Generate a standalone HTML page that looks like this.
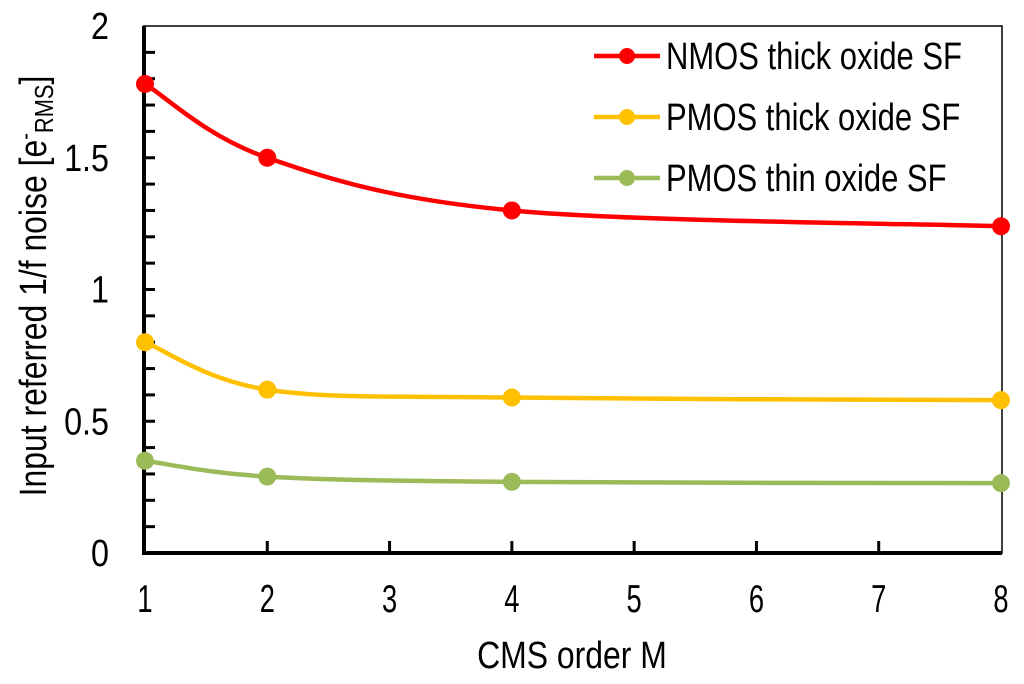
<!DOCTYPE html>
<html><head><meta charset="utf-8"><style>
body{margin:0;background:#fff}
svg text{font-family:"Liberation Sans",sans-serif;fill:#000}
</style></head><body>
<svg id="chart" width="1024" height="679" xmlns="http://www.w3.org/2000/svg">
<g id="grid"></g>
<g id="series"></g>
<g id="legend"></g>
</svg>
<script>
const xTicks=[1,2,3,4,5,6,7,8];
const yTicks=[0,0.5,1,1.5,2];
const yTickLabels=["0","0.5","1","1.5","2"];
const xValues=[1,2,4,8];
const nmosThick=[1.78,1.50,1.30,1.24];
const pmosThick=[0.80,0.62,0.59,0.58];
const pmosThin=[0.35,0.29,0.27,0.265];
const seriesNames=["NMOS thick oxide SF","PMOS thick oxide SF","PMOS thin oxide SF"];
const seriesColors=["#ff0000","#ffc000","#9bbb59"];

const L=145,R=1001,T=26,B=553;
const sx=v=>L+(v-1)*(R-L)/7;
const sy=v=>B-v*(B-T)/2;
const NS="http://www.w3.org/2000/svg";
function mk(tag,attrs,parent,txt){const e=document.createElementNS(NS,tag);for(const k in attrs)e.setAttribute(k,attrs[k]);if(txt!=null)e.textContent=txt;parent.appendChild(e);return e;}
function ntext(parent,x,y,size,anchor,str,sc){
  const g=mk('g',{transform:`translate(${x},${y}) scale(${sc},1)`},parent);
  return mk('text',{x:0,y:0,'font-size':size,'text-anchor':anchor},g,str);
}
const grid=document.getElementById('grid');
let f=mk('rect',{x:L-1,y:T,width:R-L+2,height:B-T,fill:'none',stroke:'#000','stroke-width':1.5},grid);


let ya=mk('line',{x1:L-1,y1:T,x2:L-1,y2:B+2,stroke:'#000','stroke-width':4},grid);


let xa=mk('line',{x1:L-3,y1:B,x2:R+1,y2:B,stroke:'#000','stroke-width':4},grid);


for(let i=1;i<20;i++){
  let t=mk('line',{x1:L,y1:sy(i/10),x2:L+10,y2:sy(i/10),stroke:'#000','stroke-width':3},grid);
  
  
}
yTicks.forEach((v,i)=>{
  let t=ntext(grid,109,sy(v)+13,38,'end',yTickLabels[i],0.85);
  
  
});
xTicks.forEach(v=>{
  if(v>1&&v<8){let t=mk('line',{x1:sx(v),y1:B,x2:sx(v),y2:B-12,stroke:'#000','stroke-width':3},grid);
  
  }
  let l=ntext(grid,sx(v),612,39,'middle',String(v),0.7);
  
  
});
let xt=ntext(grid,572,668,38,'middle','CMS order M',0.84);


const yg=mk('g',{transform:'translate(46,286) rotate(-90) scale(0.84,1)'},grid);
let yt=mk('text',{x:0,y:0,'text-anchor':'middle','font-size':38},yg);


yt.innerHTML='Input referred 1/f noise [e<tspan dy="-13" font-size="24">-</tspan><tspan dy="20" font-size="26">RMS</tspan><tspan dy="-7">]</tspan>';

function smooth(pts){
  let d=`M${pts[0][0]},${pts[0][1]}`;
  for(let i=0;i<pts.length-1;i++){
    const p0=pts[i-1]||pts[i],p1=pts[i],p2=pts[i+1],p3=pts[i+2]||p2;
    const c1=[p1[0]+(p2[0]-p0[0])/6,p1[1]+(p2[1]-p0[1])/6];
    const c2=[p2[0]-(p3[0]-p1[0])/6,p2[1]-(p3[1]-p1[1])/6];
    d+=` C${c1[0]},${c1[1]} ${c2[0]},${c2[1]} ${p2[0]},${p2[1]}`;
  }
  return d;
}
const ser=document.getElementById('series');
[nmosThick,pmosThick,pmosThin].forEach((vals,si)=>{
  const pts=xValues.map((x,i)=>[sx(x),sy(vals[i])]);
  let p=mk('path',{d:smooth(pts),fill:'none',stroke:seriesColors[si],'stroke-width':4.5},ser);
  
  
  pts.forEach(q=>{
    let c=mk('circle',{cx:q[0],cy:q[1],r:9,fill:seriesColors[si]},ser);
    
    
  });
});
const leg=document.getElementById('legend');
const rowsY=[56,117,178];
seriesNames.forEach((n,i)=>{
  let ln=mk('line',{x1:594,y1:rowsY[i],x2:660,y2:rowsY[i],stroke:seriesColors[i],'stroke-width':4.5},leg);
  
  
  let c=mk('circle',{cx:627,cy:rowsY[i],r:8,fill:seriesColors[i]},leg);
  
  
  let t=ntext(leg,666,rowsY[i]+13,38,'start',n,0.815);
  
  
});
</script>
</body></html>
